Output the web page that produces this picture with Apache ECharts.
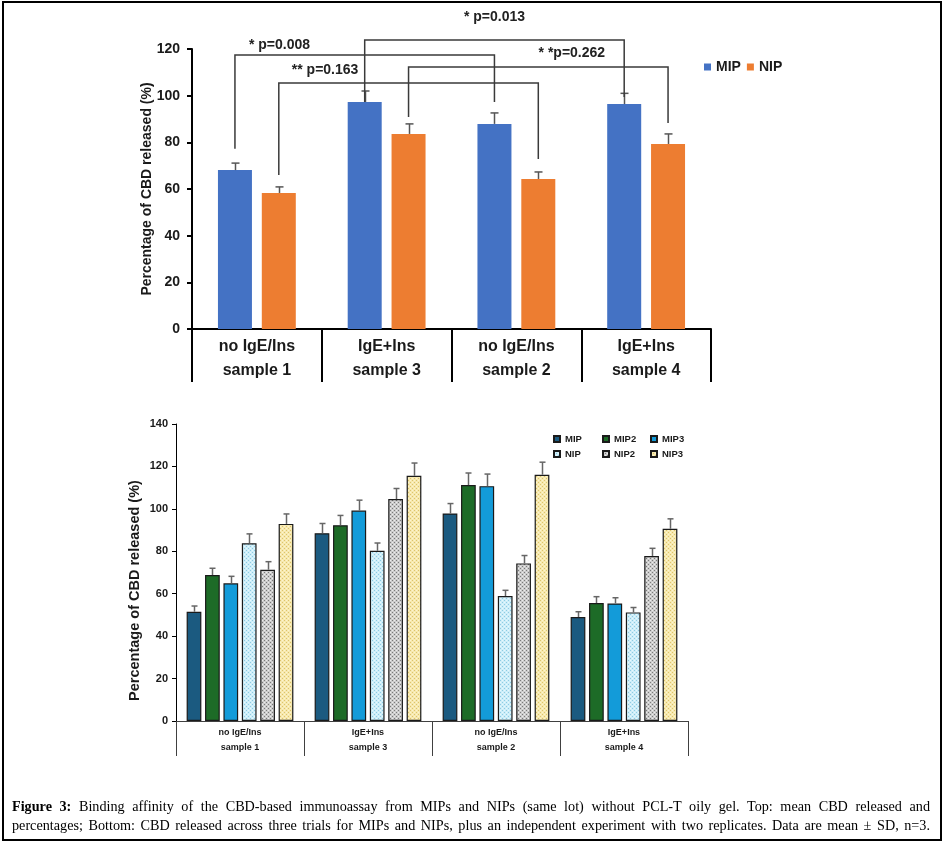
<!DOCTYPE html>
<html>
<head>
<meta charset="utf-8">
<script src="https://cdn.jsdelivr.net/npm/echarts@6/dist/echarts.min.js"></script>
<style>
html,body{margin:0;padding:0;background:#fff;}
#chart{position:absolute;left:0;top:0;width:944px;height:843px;}
#cap{position:absolute;left:12px;top:797px;width:918px;font-family:'Liberation Serif','Times New Roman',serif;font-size:14.2px;line-height:19px;color:#000;}
#cap div{white-space:nowrap;text-align:justify;text-align-last:justify;}
</style>
</head>
<body>
<div id="chart"></div>
<div id="cap">
<div><b>Figure 3:</b> Binding affinity of the CBD-based immunoassay from MIPs and NIPs (same lot) without PCL-T oily gel. Top: mean CBD released and</div>
<div>percentages; Bottom: CBD released across three trials for MIPs and NIPs, plus an independent experiment with two replicates. Data are mean ± SD, n=3.</div>
</div>
<script>
// ---------- DATA ----------
const categories = ['no IgE/Ins\nsample 1', 'IgE+Ins\nsample 3', 'no IgE/Ins\nsample 2', 'IgE+Ins\nsample 4'];
const yTitle = 'Percentage of CBD released (%)';

// Top chart: mean values and SD
const topNames = ['MIP', 'NIP'];
const topMIP = [68.1, 97.3, 87.9, 96.4];
const topMIPsd = [3.0, 4.7, 4.7, 4.6];
const topNIP = [58.3, 83.6, 64.3, 79.3];
const topNIPsd = [2.6, 4.3, 3.0, 4.3];

// Significance brackets: [category, series(0=MIP,1=NIP)]
const bracketLabels = ['* p=0.008', '** p=0.163', '* p=0.013', '* *p=0.262'];
const bracketFrom = [[0, 0], [0, 1], [1, 0], [1, 1]];
const bracketTo = [[2, 0], [2, 1], [3, 0], [3, 1]];
const bracketTop = [117.4, 105.4, 123.9, 112.3];
const bracketFromEnd = [77.2, 66.0, 97.3, 90.9];
const bracketToEnd = [97.3, 72.9, 99.4, 88.3];

// Bottom chart: three trials + replicates
const botNames = ['MIP', 'MIP2', 'MIP3', 'NIP', 'NIP2', 'NIP3'];
const botMIP = [51.5, 88.5, 97.8, 49.0];
const botMIPsd = [2.7, 4.6, 4.7, 2.5];
const botMIP2 = [68.8, 92.3, 111.2, 55.6];
const botMIP2sd = [3.2, 4.6, 5.7, 3.0];
const botMIP3 = [64.9, 99.2, 110.7, 55.4];
const botMIP3sd = [3.3, 4.9, 5.7, 2.7];
const botNIP = [83.8, 80.2, 58.9, 51.2];
const botNIPsd = [4.4, 3.7, 2.7, 2.3];
const botNIP2 = [71.3, 104.6, 74.3, 77.8];
const botNIP2sd = [3.8, 5.0, 3.7, 3.6];
const botNIP3 = [92.9, 115.6, 116.1, 90.6];
const botNIP3sd = [4.7, 6.0, 5.9, 4.7];

// ---------- STYLE / LAYOUT ----------
const FONT = "'Liberation Sans', Arial, sans-serif";
const TOP_BAR_PCT = 0.262, TOP_GAP = 0.29;
const BOT_BAR_PCT = 0.115, BOT_GAP = 0.25;
const bracketLabelLayout = [
  {dx: 14, dy: -10, align: 'left'},
  {dx: 13, dy: -13, align: 'left'},
  {mid: true, dy: -23, align: 'center'},
  {dx: 130, dy: -14, align: 'left'}
];
// bottom legend slots (3 columns x 2 rows)
const legendCols = [553, 602, 650];
const legendRows = [434, 449];

function pattern(bg, dot, dot2) {
  const c = document.createElement('canvas');
  c.width = 4; c.height = 4;
  const x = c.getContext('2d');
  x.fillStyle = bg; x.fillRect(0, 0, 4, 4);
  x.fillStyle = dot; x.fillRect(0, 0, 1, 1); x.fillRect(2, 2, 1, 1);
  x.fillStyle = dot2; x.fillRect(2, 0, 1, 1); x.fillRect(0, 2, 1, 1);
  return {image: c, repeat: 'repeat'};
}

const topColors = ['#4472C4', '#ED7D31'];
const botColors = [
  '#1b5a80', '#1d6b27', '#139bd9',
  pattern('#cdeef9', '#8fcbe2', '#e8f7fc'),
  pattern('#cccccc', '#7a7a7a', '#ececec'),
  pattern('#f7e9ae', '#dcc36e', '#fbf3d2')
];

function barOffset(bandW, pct, gap, n, s) {
  const w = bandW * pct;
  return (s - (n - 1) / 2) * w * (1 + gap);
}

const topVals = [topMIP, topNIP], topSds = [topMIPsd, topNIPsd];
const botVals = [botMIP, botMIP2, botMIP3, botNIP, botNIP2, botNIP3];
const botSds = [botMIPsd, botMIP2sd, botMIP3sd, botNIPsd, botNIP2sd, botNIP3sd];

function errData(vals, sds) {
  const out = [];
  vals.forEach((arr, s) => arr.forEach((v, c) => out.push([c, v, sds[s][c], s])));
  return out;
}

function errRender(pct, gap, n, cap, color) {
  return function (params, api) {
    const c = api.value(0), v = api.value(1), sd = api.value(2), s = api.value(3);
    const bandW = api.size([1, 0])[0];
    const off = barOffset(bandW, pct, gap, n, s);
    const p0 = api.coord([c, v]);
    const p1 = api.coord([c, v + sd]);
    const x = Math.round(p0[0] + off) + 0.5;
    const st = {stroke: color, lineWidth: 1.5};
    return {type: 'group', children: [
      {type: 'line', shape: {x1: x, y1: p0[1], x2: x, y2: p1[1]}, style: st},
      {type: 'line', shape: {x1: x - cap, y1: p1[1], x2: x + cap, y2: p1[1]}, style: st}
    ]};
  };
}

function bracketRender(params, api) {
  const i = params.dataIndex;
  const bandW = api.size([1, 0])[0];
  const f = bracketFrom[i], t = bracketTo[i];
  const xf = api.coord([f[0], 0])[0] + barOffset(bandW, TOP_BAR_PCT, TOP_GAP, 2, f[1]);
  const xt = api.coord([t[0], 0])[0] + barOffset(bandW, TOP_BAR_PCT, TOP_GAP, 2, t[1]);
  const yTop = api.coord([0, bracketTop[i]])[1];
  const yF = api.coord([0, bracketFromEnd[i]])[1];
  const yT = api.coord([0, bracketToEnd[i]])[1];
  const L = bracketLabelLayout[i];
  const tx = L.mid ? (xf + xt) / 2 : xf + L.dx;
  return {type: 'group', children: [
    {type: 'polyline', shape: {points: [[xf, yF], [xf, yTop], [xt, yTop], [xt, yT]]},
      style: {stroke: '#3a3a3a', lineWidth: 1.5, fill: null}},
    {type: 'text', x: tx, y: yTop + L.dy,
      style: {text: bracketLabels[i], font: 'bold 14px ' + FONT, fill: '#222',
        align: L.align, verticalAlign: 'middle'}}
  ]};
}

const series = [];
topNames.forEach((n, s) => series.push({
  name: n, type: 'bar', xAxisIndex: 0, yAxisIndex: 0,
  data: topVals[s], barWidth: (TOP_BAR_PCT * 100) + '%', barGap: (TOP_GAP * 100) + '%',
  itemStyle: {color: topColors[s]}
}));
series.push({
  type: 'custom', name: 'topErr', xAxisIndex: 0, yAxisIndex: 0, z: 4,
  data: errData(topVals, topSds), encode: {x: 0, y: 1},
  renderItem: errRender(TOP_BAR_PCT, TOP_GAP, 2, 4, '#555')
});
series.push({
  type: 'custom', name: 'brackets', xAxisIndex: 0, yAxisIndex: 0, z: 5, clip: false,
  data: bracketTop.map((v, i) => [bracketFrom[i][0], v]), encode: {x: 0, y: 1},
  renderItem: bracketRender
});
botNames.forEach((n, s) => series.push({
  name: 'B-' + n, type: 'bar', xAxisIndex: 1, yAxisIndex: 1,
  data: botVals[s], barWidth: (BOT_BAR_PCT * 100) + '%', barGap: (BOT_GAP * 100) + '%',
  itemStyle: {color: botColors[s], borderColor: '#1a1a1a', borderWidth: 1.2}
}));
series.push({
  type: 'custom', name: 'botErr', xAxisIndex: 1, yAxisIndex: 1, z: 4,
  data: errData(botVals, botSds), encode: {x: 0, y: 1},
  renderItem: errRender(BOT_BAR_PCT, BOT_GAP, 6, 3, '#666')
});

const legends = [
  {data: topNames, left: 704, top: 60, padding: 0, icon: 'rect', itemWidth: 7, itemHeight: 7, itemGap: 6,
    textStyle: {fontFamily: FONT, fontWeight: 'bold', fontSize: 14, color: '#1a1a1a'}}
];
botNames.forEach((n, s) => legends.push({
  data: ['B-' + n], left: legendCols[s % 3], top: legendRows[Math.floor(s / 3)], padding: 0,
  icon: 'rect', itemWidth: 6, itemHeight: 6, formatter: nm => nm.slice(2),
  textStyle: {fontFamily: FONT, fontWeight: 'bold', fontSize: 9.5, color: '#1a1a1a'}
}));

const chart = echarts.init(document.getElementById('chart'), null, {renderer: 'canvas'});
chart.setOption({
  animation: false,
  backgroundColor: '#fff',
  grid: [
    {left: 192, right: 233, top: 49, height: 280},
    {left: 176, right: 256, top: 424, height: 297}
  ],
  legend: legends,
  xAxis: [
    {type: 'category', gridIndex: 0, data: categories,
      axisLine: {lineStyle: {color: '#000', width: 2}},
      axisTick: {show: true, interval: 0, length: 53, lineStyle: {color: '#000', width: 2}},
      axisLabel: {interval: 0, margin: 6, fontFamily: FONT, fontWeight: 'bold', fontSize: 16,
        lineHeight: 24, color: '#1a1a1a'}},
    {type: 'category', gridIndex: 1, data: categories,
      axisLine: {lineStyle: {color: '#404040', width: 1}},
      axisTick: {show: true, interval: 0, length: 35, lineStyle: {color: '#404040', width: 1}},
      axisLabel: {interval: 0, margin: 4, fontFamily: FONT, fontWeight: 'bold', fontSize: 9,
        lineHeight: 15, color: '#1a1a1a'}}
  ],
  yAxis: [
    {type: 'value', gridIndex: 0, min: 0, max: 120, interval: 20,
      name: yTitle, nameLocation: 'middle', nameRotate: 90, nameGap: 38, nameMoveOverlap: false,
      nameTextStyle: {fontFamily: FONT, fontWeight: 'bold', fontSize: 14, color: '#1a1a1a'},
      splitLine: {show: false},
      axisLine: {show: true, lineStyle: {color: '#000', width: 2}},
      axisTick: {show: true, length: 5, lineStyle: {color: '#000', width: 2}},
      axisLabel: {margin: 12, fontFamily: FONT, fontWeight: 'bold', fontSize: 14, color: '#1a1a1a'}},
    {type: 'value', gridIndex: 1, min: 0, max: 140, interval: 20,
      name: yTitle, nameLocation: 'middle', nameRotate: 90, nameGap: 34, nameMoveOverlap: false,
      nameTextStyle: {fontFamily: FONT, fontWeight: 'bold', fontSize: 14.5, color: '#1a1a1a',
        padding: [0, 36, 0, 0]},
      splitLine: {show: false},
      axisLine: {show: true, lineStyle: {color: '#000', width: 1}},
      axisTick: {show: true, length: 4, lineStyle: {color: '#000', width: 1}},
      axisLabel: {margin: 8, fontFamily: FONT, fontWeight: 'bold', fontSize: 11, color: '#1a1a1a'}}
  ],
  graphic: [
    {type: 'rect', shape: {x: 3, y: 2, width: 938, height: 838}, z: 100,
      style: {fill: null, stroke: '#000', lineWidth: 2}}
  ],
  series: series
});
</script>
</body>
</html>
